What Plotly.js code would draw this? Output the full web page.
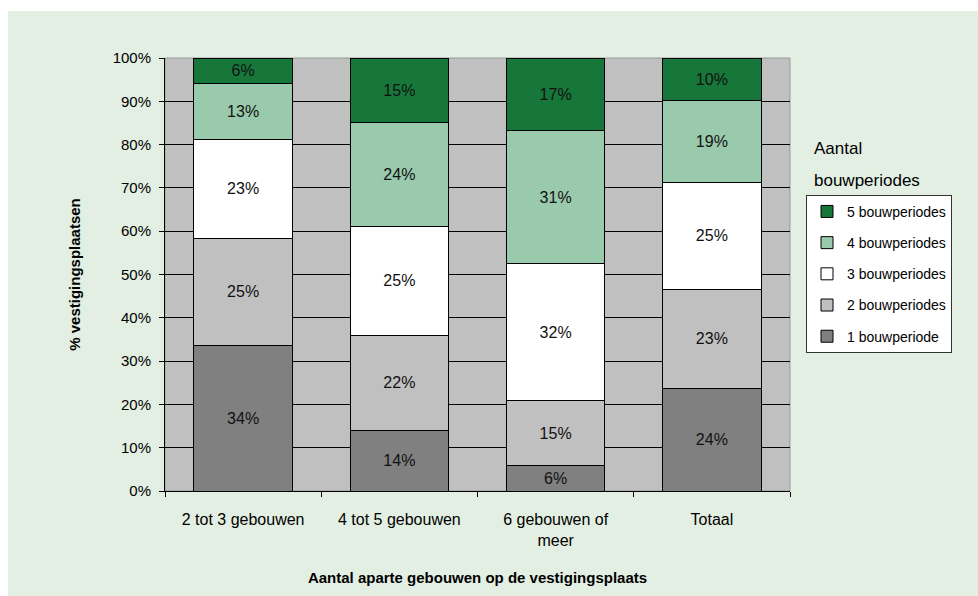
<!DOCTYPE html>
<html>
<head>
<meta charset="utf-8">
<script src="https://cdn.plot.ly/plotly-3.0.1.min.js"></script>
<style>
  html, body { margin: 0; padding: 0; background: #ffffff; }
  #chart { width: 978px; height: 596px; }
</style>
</head>
<body>
<div id="chart"></div>
<script>
// Categories on the x axis
const categories = ['2 tot 3 gebouwen', '4 tot 5 gebouwen', '6 gebouwen of<br>meer', 'Totaal'];

// Share of vestigingsplaatsen per number of bouwperiodes (%)
const periode1 = [34, 14, 6, 24];
const periode2 = [25, 22, 15, 23];
const periode3 = [23, 25, 32, 25];
const periode4 = [13, 24, 31, 19];
const periode5 = [6, 15, 17, 10];

const seriesNames = ['1 bouwperiode', '2 bouwperiodes', '3 bouwperiodes', '4 bouwperiodes', '5 bouwperiodes'];
const yTickValues = [0, 10, 20, 30, 40, 50, 60, 70, 80, 90, 100];

const FONT = '"Liberation Sans", Arial, sans-serif';

// rank: the legend lists the top segment first
function barTrace(values, name, rank, marker) {
  return {
    type: 'bar',
    x: categories,
    y: values,
    name: name,
    legendgroup: name,
    legendrank: rank,
    text: values.map(v => v + '%'),
    texttemplate: '%{text}',
    textposition: 'inside',
    insidetextanchor: 'middle',
    textangle: 0,
    constraintext: 'none',
    textfont: { family: FONT, size: 16, color: '#111111' },
    marker: Object.assign({ line: { color: '#000000', width: 1 } }, marker),
    hoverinfo: 'name+text'
  };
}

const data = [
  barTrace(periode1, seriesNames[0], 5, { color: '#808080' }),
  barTrace(periode2, seriesNames[1], 4, { color: '#c0c0c0' }),
  barTrace(periode3, seriesNames[2], 3, { color: '#ffffff' }),
  barTrace(periode4, seriesNames[3], 2, {
    color: '#a9d9b8',
    pattern: { shape: '.', fgcolor: '#2a8a52', bgcolor: '#dff2e5', size: 2, solidity: 0.4 }
  }),
  barTrace(periode5, seriesNames[4], 1, { color: '#17773a' })
];

const layout = {
  width: 978,
  height: 596,
  margin: { l: 165, r: 188, t: 58, b: 105 },
  paper_bgcolor: '#e3efe3',
  plot_bgcolor: '#c0c0c0',
  barmode: 'stack',
  barnorm: 'percent',
  bargap: 0.37,
  font: { family: FONT, size: 16, color: '#000000' },
  showlegend: true,
  legend: {
    x: 1.0256, y: 0.684, xanchor: 'left', yanchor: 'top',
    bgcolor: '#ffffff', bordercolor: '#333333', borderwidth: 1,
    traceorder: 'grouped',
    tracegroupgap: 10,
    itemwidth: 30,
    font: { family: FONT, size: 14, color: '#000000' },
    itemclick: false
  },
  xaxis: {
    type: 'category',
    tickson: 'boundaries',
    ticks: 'outside', ticklen: 5, tickcolor: '#000000',
    ticklabelstandoff: 14,
    showline: true, linecolor: '#000000', linewidth: 1,
    showgrid: false,
    tickfont: { family: FONT, size: 16 },
    title: {
      text: 'Aantal aparte gebouwen op de vestigingsplaats',
      font: { family: FONT, size: 15, weight: 'bold' },
      standoff: 24
    }
  },
  yaxis: {
    range: [0, 100],
    tickvals: yTickValues,
    ticktext: yTickValues.map(v => v + '%'),
    ticks: 'outside', ticklen: 5, tickcolor: '#000000',
    ticklabelstandoff: 5,
    showline: true, linecolor: '#000000', linewidth: 1,
    showgrid: true, gridcolor: '#000000', gridwidth: 1,
    zeroline: false,
    tickfont: { family: FONT, size: 15 },
    title: {
      text: '% vestigingsplaatsen',
      font: { family: FONT, size: 15, weight: 'bold' },
      standoff: 28
    }
  },
  annotations: [
    {
      xref: 'paper', yref: 'paper',
      x: 1.035, y: 0.792, xanchor: 'left', yanchor: 'middle', align: 'left',
      text: 'Aantal', showarrow: false,
      font: { family: FONT, size: 17, color: '#000000' }
    },
    {
      xref: 'paper', yref: 'paper',
      x: 1.035, y: 0.718, xanchor: 'left', yanchor: 'middle', align: 'left',
      text: 'bouwperiodes', showarrow: false,
      font: { family: FONT, size: 17, color: '#000000' }
    }
  ],
  shapes: [
    // thin frame around the plot area
    { type: 'rect', xref: 'paper', yref: 'paper', x0: 0, x1: 1, y0: 0, y1: 1,
      line: { color: '#999999', width: 1 }, fillcolor: 'rgba(0,0,0,0)', layer: 'below' },
    // white page border along the top and left edges
    { type: 'rect', xref: 'paper', yref: 'paper', x0: -0.3, x1: 1.4, y0: 1.1085, y1: 1.2,
      line: { width: 0 }, fillcolor: '#ffffff', layer: 'below' },
    { type: 'rect', xref: 'paper', yref: 'paper', x0: -0.3, x1: -0.2512, y0: -0.3, y1: 1.2,
      line: { width: 0 }, fillcolor: '#ffffff', layer: 'below' }
  ]
};

Plotly.newPlot('chart', data, layout, { staticPlot: true, displayModeBar: false });
</script>
</body>
</html>
